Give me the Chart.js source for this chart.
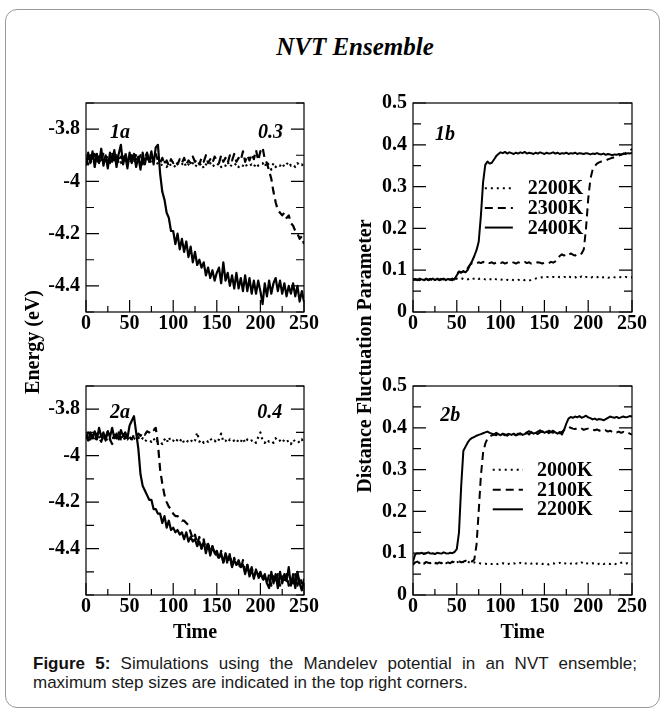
<!DOCTYPE html>
<html>
<head>
<meta charset="utf-8">
<script src="https://cdn.jsdelivr.net/npm/chart.js@4/dist/chart.umd.min.js"></script>
<style>
html,body{margin:0;padding:0;background:#fff;}
#page{position:relative;width:665px;height:718px;overflow:hidden;background:#fff;}
#frame{position:absolute;left:5px;top:9px;width:655px;height:699px;border:1px solid #9a9a9a;border-radius:12px;box-sizing:border-box;}
canvas{position:absolute;}
.serif{font-family:"Liberation Serif","Times New Roman",Times,serif;font-weight:bold;color:#000;}
#title{position:absolute;left:155px;width:400px;top:32px;height:30px;line-height:30px;text-align:center;font-style:italic;font-size:25px;white-space:nowrap;}
.ytitle{position:absolute;width:400px;height:24px;line-height:24px;text-align:center;font-size:20px;transform:rotate(-90deg);white-space:nowrap;}
#ytitle1{left:-168px;top:330px;}
#ytitle2{left:164px;top:344px;}
#caption{position:absolute;left:33px;top:654px;width:604px;font-family:"Liberation Sans",Arial,sans-serif;font-size:17px;line-height:19px;color:#1a1a1a;text-align:justify;}
#caption b{color:#111;}
</style>
</head>
<body>
<div id="page">
  <div id="frame"></div>
  <canvas id="c1a" width="302" height="257" style="left:24px;top:85px;width:302px;height:257px;"></canvas>
  <canvas id="c1b" width="303" height="257" style="left:351px;top:85px;width:303px;height:257px;"></canvas>
  <canvas id="c2a" width="302" height="277" style="left:24px;top:368px;width:302px;height:277px;"></canvas>
  <canvas id="c2b" width="303" height="277" style="left:351px;top:368px;width:303px;height:277px;"></canvas>
  <div id="title" class="serif">NVT Ensemble</div>
  <div id="ytitle1" class="ytitle serif">Energy (eV)</div>
  <div id="ytitle2" class="ytitle serif">Distance Fluctuation Parameter</div>
  <div id="caption"><b>Figure 5:</b> Simulations using the Mandelev potential in an NVT ensemble; maximum step sizes are indicated in the top right corners.</div>
</div>
<script>
// ---------------- DATA ----------------
const time = [
  0,2.5,5,7.5,10,12.5,15,17.5,20,22.5,
  25,27.5,30,32.5,35,37.5,40,42.5,45,47.5,
  50,52.5,55,57.5,60,62.5,65,67.5,70,72.5,
  75,77.5,80,82.5,85,87.5,90,92.5,95,97.5,
  100,102.5,105,107.5,110,112.5,115,117.5,120,122.5,
  125,127.5,130,132.5,135,137.5,140,142.5,145,147.5,
  150,152.5,155,157.5,160,162.5,165,167.5,170,172.5,
  175,177.5,180,182.5,185,187.5,190,192.5,195,197.5,
  200,202.5,205,207.5,210,212.5,215,217.5,220,222.5,
  225,227.5,230,232.5,235,237.5,240,242.5,245,247.5,
  250];

const timeTickLabels = ['0','50','100','150','200','250'];
const energyTickLabels = ['-3.8','-4','-4.2','-4.4'];
const dfpTickLabels = ['0','0.1','0.2','0.3','0.4','0.5'];

// Panel 1a: energy (eV), step size 0.3
const energy1_2200K = [
  -3.92,-3.905,-3.93,-3.91,-3.92,-3.90,-3.93,-3.91,-3.925,-3.905,
  -3.92,-3.91,-3.93,-3.905,-3.92,-3.91,-3.93,-3.90,-3.92,-3.91,
  -3.93,-3.915,-3.92,-3.905,-3.93,-3.915,-3.92,-3.905,-3.925,-3.91,
  -3.93,-3.915,-3.92,-3.935,-3.93,-3.94,-3.925,-3.945,-3.93,-3.94,
  -3.935,-3.945,-3.93,-3.94,-3.935,-3.925,-3.945,-3.935,-3.94,-3.93,
  -3.945,-3.935,-3.94,-3.93,-3.95,-3.935,-3.94,-3.93,-3.945,-3.935,
  -3.94,-3.93,-3.945,-3.935,-3.94,-3.925,-3.945,-3.935,-3.94,-3.93,
  -3.945,-3.935,-3.94,-3.93,-3.945,-3.94,-3.935,-3.945,-3.93,-3.94,
  -3.935,-3.93,-3.945,-3.925,-3.94,-3.955,-3.93,-3.945,-3.935,-3.94,
  -3.93,-3.945,-3.935,-3.925,-3.94,-3.935,-3.945,-3.93,-3.94,-3.935,
  -3.945];
const energy1_2300K = [
  -3.91,-3.935,-3.90,-3.92,-3.895,-3.93,-3.905,-3.925,-3.89,-3.92,
  -3.90,-3.93,-3.895,-3.92,-3.90,-3.93,-3.905,-3.915,-3.89,-3.925,
  -3.91,-3.90,-3.93,-3.895,-3.92,-3.90,-3.935,-3.91,-3.89,-3.925,
  -3.905,-3.915,-3.895,-3.92,-3.93,-3.91,-3.935,-3.92,-3.94,-3.915,
  -3.93,-3.92,-3.935,-3.915,-3.93,-3.91,-3.935,-3.92,-3.93,-3.905,
  -3.925,-3.915,-3.935,-3.91,-3.925,-3.90,-3.93,-3.915,-3.93,-3.905,
  -3.92,-3.93,-3.90,-3.925,-3.91,-3.93,-3.90,-3.92,-3.895,-3.925,
  -3.91,-3.92,-3.885,-3.925,-3.90,-3.92,-3.895,-3.915,-3.88,-3.92,
  -3.885,-3.87,-3.915,-3.93,-3.96,-3.99,-4.04,-4.08,-4.11,-4.12,
  -4.13,-4.12,-4.14,-4.13,-4.16,-4.17,-4.19,-4.20,-4.22,-4.21,
  -4.24];
const energy1_2400K = [
  -3.94,-3.89,-3.93,-3.885,-3.945,-3.895,-3.93,-3.875,-3.94,-3.90,
  -3.95,-3.89,-3.925,-3.88,-3.945,-3.895,-3.86,-3.935,-3.90,-3.95,
  -3.89,-3.93,-3.895,-3.945,-3.905,-3.955,-3.89,-3.935,-3.895,-3.925,
  -3.885,-3.935,-3.87,-3.86,-3.97,-4.04,-4.07,-4.12,-4.14,-4.19,
  -4.19,-4.24,-4.20,-4.26,-4.22,-4.27,-4.23,-4.29,-4.25,-4.31,
  -4.27,-4.32,-4.30,-4.33,-4.31,-4.36,-4.33,-4.37,-4.34,-4.38,
  -4.35,-4.33,-4.39,-4.31,-4.38,-4.35,-4.40,-4.36,-4.41,-4.35,
  -4.41,-4.37,-4.42,-4.36,-4.42,-4.37,-4.43,-4.38,-4.43,-4.38,
  -4.42,-4.47,-4.39,-4.44,-4.38,-4.43,-4.39,-4.37,-4.42,-4.38,
  -4.43,-4.39,-4.44,-4.40,-4.43,-4.39,-4.44,-4.40,-4.46,-4.42,
  -4.46];

// Panel 1b: distance fluctuation parameter
const dfp1_2200K = [
  0.078,0.076,0.079,0.077,0.080,0.076,0.078,0.081,0.077,0.079,
  0.076,0.079,0.077,0.080,0.078,0.076,0.079,0.077,0.080,0.078,
  0.080,0.082,0.081,0.079,0.080,0.078,0.081,0.079,0.080,0.082,
  0.079,0.081,0.080,0.078,0.080,0.079,0.077,0.080,0.078,0.076,
  0.078,0.077,0.075,0.077,0.076,0.078,0.076,0.075,0.077,0.076,
  0.078,0.076,0.077,0.075,0.077,0.078,0.080,0.081,0.082,0.083,
  0.082,0.084,0.083,0.082,0.084,0.083,0.085,0.083,0.082,0.084,
  0.083,0.086,0.083,0.082,0.084,0.080,0.083,0.085,0.082,0.084,
  0.083,0.081,0.084,0.082,0.083,0.085,0.082,0.083,0.084,0.082,
  0.083,0.085,0.083,0.082,0.084,0.083,0.082,0.084,0.083,0.082,
  0.083];
const dfp1_2300K = [
  0.079,0.077,0.078,0.076,0.079,0.078,0.080,0.077,0.079,0.076,
  0.078,0.080,0.077,0.079,0.078,0.076,0.079,0.077,0.080,0.078,
  0.090,0.097,0.095,0.098,0.096,0.105,0.113,0.117,0.118,0.116,
  0.119,0.117,0.120,0.116,0.118,0.117,0.119,0.116,0.118,0.120,
  0.117,0.119,0.116,0.118,0.117,0.120,0.118,0.116,0.119,0.117,
  0.118,0.120,0.117,0.119,0.116,0.118,0.117,0.119,0.118,0.116,
  0.118,0.119,0.117,0.120,0.118,0.121,0.126,0.134,0.138,0.135,
  0.139,0.136,0.140,0.137,0.135,0.138,0.136,0.140,0.150,0.200,
  0.270,0.318,0.340,0.349,0.355,0.358,0.360,0.361,0.362,0.365,
  0.367,0.369,0.370,0.372,0.374,0.376,0.378,0.380,0.383,0.386,
  0.390];
const dfp1_2400K = [
  0.077,0.079,0.076,0.080,0.078,0.077,0.079,0.076,0.078,0.080,
  0.077,0.079,0.076,0.078,0.080,0.077,0.079,0.078,0.076,0.079,
  0.088,0.096,0.094,0.097,0.095,0.101,0.112,0.122,0.134,0.148,
  0.168,0.230,0.310,0.352,0.360,0.355,0.357,0.365,0.373,0.378,
  0.382,0.380,0.383,0.379,0.382,0.380,0.378,0.381,0.379,0.382,
  0.380,0.383,0.379,0.381,0.380,0.378,0.381,0.379,0.382,0.380,
  0.378,0.381,0.379,0.380,0.382,0.379,0.381,0.378,0.380,0.379,
  0.381,0.378,0.380,0.379,0.381,0.378,0.380,0.379,0.378,0.380,
  0.379,0.377,0.379,0.378,0.380,0.378,0.377,0.379,0.376,0.378,
  0.377,0.375,0.377,0.376,0.378,0.377,0.379,0.378,0.380,0.379,
  0.381];

// Panel 2a: energy (eV), step size 0.4
const energy2_2000K = [
  -3.92,-3.94,-3.91,-3.93,-3.915,-3.935,-3.92,-3.93,-3.91,-3.94,
  -3.92,-3.93,-3.915,-3.935,-3.92,-3.93,-3.91,-3.935,-3.92,-3.93,
  -3.915,-3.935,-3.925,-3.93,-3.92,-3.935,-3.925,-3.94,-3.93,-3.935,
  -3.94,-3.925,-3.945,-3.935,-3.94,-3.95,-3.93,-3.945,-3.92,-3.94,
  -3.935,-3.945,-3.93,-3.94,-3.925,-3.945,-3.935,-3.94,-3.93,-3.945,
  -3.935,-3.90,-3.94,-3.93,-3.945,-3.935,-3.94,-3.925,-3.94,-3.935,
  -3.945,-3.93,-3.905,-3.94,-3.935,-3.945,-3.93,-3.94,-3.935,-3.945,
  -3.93,-3.94,-3.925,-3.945,-3.93,-3.94,-3.935,-3.93,-3.945,-3.92,
  -3.90,-3.935,-3.945,-3.93,-3.94,-3.935,-3.945,-3.925,-3.94,-3.935,
  -3.945,-3.93,-3.94,-3.935,-3.95,-3.93,-3.94,-3.935,-3.945,-3.93,
  -3.945];
const energy2_2100K = [
  -3.925,-3.90,-3.93,-3.91,-3.935,-3.905,-3.925,-3.94,-3.91,-3.92,
  -3.895,-3.93,-3.95,-3.91,-3.925,-3.90,-3.93,-3.91,-3.925,-3.905,
  -3.92,-3.93,-3.91,-3.92,-3.905,-3.915,-3.90,-3.91,-3.895,-3.90,
  -3.885,-3.89,-3.88,-3.95,-4.06,-4.12,-4.17,-4.20,-4.22,-4.23,
  -4.25,-4.26,-4.26,-4.27,-4.28,-4.28,-4.29,-4.30,-4.33,-4.36,
  -4.34,-4.38,-4.35,-4.40,-4.36,-4.41,-4.37,-4.42,-4.39,-4.43,
  -4.42,-4.45,-4.41,-4.46,-4.43,-4.47,-4.42,-4.48,-4.44,-4.47,
  -4.46,-4.49,-4.45,-4.50,-4.47,-4.51,-4.48,-4.52,-4.50,-4.53,
  -4.51,-4.54,-4.52,-4.55,-4.51,-4.56,-4.52,-4.55,-4.51,-4.56,
  -4.52,-4.55,-4.51,-4.56,-4.53,-4.55,-4.51,-4.56,-4.52,-4.55,
  -4.55];
const energy2_2200K = [
  -3.91,-3.935,-3.90,-3.925,-3.895,-3.93,-3.88,-3.92,-3.90,-3.935,
  -3.895,-3.92,-3.88,-3.925,-3.905,-3.93,-3.89,-3.915,-3.90,-3.925,
  -3.87,-3.85,-3.83,-3.90,-3.97,-4.08,-4.13,-4.15,-4.17,-4.19,
  -4.19,-4.23,-4.23,-4.25,-4.25,-4.29,-4.26,-4.31,-4.28,-4.32,
  -4.31,-4.33,-4.32,-4.34,-4.33,-4.36,-4.33,-4.37,-4.35,-4.37,
  -4.36,-4.39,-4.37,-4.40,-4.37,-4.42,-4.38,-4.43,-4.39,-4.42,
  -4.41,-4.44,-4.42,-4.46,-4.42,-4.45,-4.43,-4.48,-4.45,-4.47,
  -4.45,-4.48,-4.47,-4.51,-4.47,-4.52,-4.49,-4.53,-4.49,-4.52,
  -4.50,-4.53,-4.51,-4.55,-4.57,-4.50,-4.55,-4.51,-4.57,-4.50,
  -4.55,-4.51,-4.54,-4.48,-4.56,-4.51,-4.57,-4.50,-4.55,-4.58,
  -4.53];

// Panel 2b: distance fluctuation parameter
const dfp2_2000K = [
  0.076,0.078,0.075,0.077,0.079,0.076,0.078,0.075,0.077,0.079,
  0.076,0.078,0.075,0.077,0.079,0.076,0.078,0.077,0.079,0.076,
  0.078,0.080,0.077,0.079,0.078,0.080,0.077,0.079,0.078,0.076,
  0.077,0.075,0.074,0.075,0.074,0.076,0.074,0.075,0.073,0.075,
  0.074,0.076,0.075,0.073,0.075,0.074,0.076,0.074,0.075,0.077,
  0.074,0.076,0.075,0.073,0.075,0.077,0.074,0.076,0.075,0.074,
  0.076,0.075,0.073,0.075,0.076,0.074,0.075,0.077,0.074,0.076,
  0.075,0.073,0.075,0.077,0.074,0.076,0.075,0.078,0.074,0.076,
  0.075,0.074,0.076,0.075,0.073,0.075,0.077,0.074,0.076,0.075,
  0.074,0.076,0.075,0.073,0.075,0.077,0.078,0.075,0.076,0.074,
  0.075];
const dfp2_2100K = [
  0.072,0.078,0.080,0.076,0.078,0.075,0.079,0.077,0.076,0.079,
  0.077,0.075,0.078,0.076,0.079,0.077,0.078,0.076,0.080,0.078,
  0.079,0.081,0.078,0.080,0.082,0.079,0.081,0.080,0.085,0.120,
  0.200,0.285,0.340,0.362,0.374,0.379,0.382,0.384,0.382,0.386,
  0.383,0.385,0.382,0.384,0.386,0.383,0.385,0.382,0.386,0.384,
  0.387,0.385,0.389,0.392,0.388,0.390,0.387,0.391,0.394,0.390,
  0.392,0.389,0.393,0.390,0.388,0.392,0.389,0.387,0.390,0.395,
  0.399,0.402,0.400,0.398,0.397,0.399,0.396,0.398,0.395,0.397,
  0.398,0.395,0.396,0.394,0.396,0.393,0.395,0.392,0.394,0.391,
  0.393,0.390,0.392,0.389,0.391,0.388,0.390,0.387,0.389,0.386,
  0.384];
const dfp2_2200K = [
  0.080,0.097,0.100,0.099,0.101,0.098,0.100,0.102,0.099,0.100,
  0.098,0.101,0.100,0.099,0.102,0.100,0.099,0.101,0.100,0.103,
  0.110,0.150,0.260,0.345,0.355,0.365,0.372,0.376,0.378,0.381,
  0.383,0.385,0.387,0.389,0.391,0.388,0.386,0.384,0.388,0.385,
  0.382,0.386,0.384,0.381,0.385,0.383,0.386,0.382,0.384,0.387,
  0.383,0.385,0.388,0.384,0.390,0.386,0.388,0.385,0.389,0.392,
  0.388,0.391,0.387,0.390,0.393,0.389,0.386,0.390,0.384,0.395,
  0.410,0.422,0.426,0.424,0.427,0.425,0.428,0.424,0.426,0.429,
  0.425,0.423,0.420,0.422,0.419,0.421,0.420,0.418,0.421,0.424,
  0.427,0.425,0.424,0.426,0.423,0.425,0.427,0.425,0.426,0.428,
  0.427];

// ---------------- RENDERING ----------------
const SERIF = '"Liberation Serif", "Times New Roman", Times, serif';
const DOT = [2, 4];
const DASH = [8, 5];

const toPoints = vals => time.map((t, i) => ({x: t, y: vals[i]}));
const pickLabel = list => v => {
  const m = list.find(s => Math.abs(parseFloat(s) - v) < 1e-6);
  return m === undefined ? '' : m;
};

// Per-panel text placed inside plot areas (in data units)
const panelText = {
  c1a: {notes: [{text: '1a', x: 27.5, y: -3.813, align: 'left'}, {text: '0.3', x: 226, y: -3.813, align: 'right'}]},
  c1b: {notes: [{text: '1b', x: 25, y: 0.4245, align: 'left'}],
        legend: {x0: 82, x1: 114, xText: 131, rows: [0.296, 0.249, 0.202]}},
  c2a: {notes: [{text: '2a', x: 27.5, y: -3.815, align: 'left'}, {text: '0.4', x: 225, y: -3.815, align: 'right'}]},
  c2b: {notes: [{text: '2b', x: 31, y: 0.429, align: 'left'}],
        legend: {x0: 91, x1: 125.5, xText: 141.5, rows: [0.2995, 0.252, 0.205]}}
};

const framePlugin = {
  id: 'frameTicks',
  afterDatasetsDraw(chart) {
    const {ctx, chartArea: a, scales: {x, y}} = chart;
    ctx.save();
    ctx.strokeStyle = '#000';
    ctx.lineWidth = 1.2;
    ctx.setLineDash([]);
    ctx.strokeRect(a.left, a.top, a.right - a.left, a.bottom - a.top);
    ctx.beginPath();
    y.ticks.forEach(t => {
      const p = y.getPixelForValue(t.value);
      const L = t.label ? 13 : 8;
      ctx.moveTo(a.left, p); ctx.lineTo(a.left + L, p);
      ctx.moveTo(a.right, p); ctx.lineTo(a.right - L, p);
    });
    x.ticks.forEach(t => {
      const p = x.getPixelForValue(t.value);
      const L = t.label ? 12 : 6;
      ctx.moveTo(p, a.bottom); ctx.lineTo(p, a.bottom - L);
    });
    ctx.stroke();
    ctx.restore();
  }
};

const textPlugin = {
  id: 'panelText',
  afterDraw(chart) {
    const cfg = panelText[chart.canvas.id];
    if (!cfg) return;
    const {ctx, scales: {x, y}} = chart;
    ctx.save();
    ctx.fillStyle = '#000';
    ctx.textBaseline = 'middle';
    (cfg.notes || []).forEach(n => {
      ctx.font = 'italic bold 20px ' + SERIF;
      ctx.textAlign = n.align;
      ctx.fillText(n.text, x.getPixelForValue(n.x), y.getPixelForValue(n.y));
    });
    const lg = cfg.legend;
    if (lg) {
      chart.data.datasets.forEach((ds, i) => {
        const py = y.getPixelForValue(lg.rows[i]);
        ctx.strokeStyle = '#000';
        ctx.lineWidth = ds.borderWidth;
        ctx.setLineDash(ds.borderDash || []);
        ctx.beginPath();
        ctx.moveTo(x.getPixelForValue(lg.x0), py);
        ctx.lineTo(x.getPixelForValue(lg.x1), py);
        ctx.stroke();
        ctx.setLineDash([]);
        ctx.font = 'bold 20px ' + SERIF;
        ctx.textAlign = 'left';
        ctx.fillText(ds.label, x.getPixelForValue(lg.xText), py + 1);
      });
    }
    ctx.restore();
  }
};

function makePanel(id, series, yMin, yMax, yStep, yLabels, showTime) {
  return new Chart(document.getElementById(id), {
    type: 'line',
    data: {
      datasets: series.map(s => ({
        label: s.label,
        data: toPoints(s.values),
        borderColor: '#000',
        borderWidth: s.width,
        borderDash: s.dash,
        borderCapStyle: 'butt',
        borderJoinStyle: 'round',
        pointRadius: 0,
        fill: false,
        tension: 0
      }))
    },
    options: {
      responsive: false,
      animation: false,
      devicePixelRatio: 1,
      layout: {padding: {top: 15, right: 22, left: 0, bottom: 0}},
      plugins: {legend: {display: false}, tooltip: {enabled: false}},
      scales: {
        x: {
          type: 'linear', min: 0, max: 250,
          border: {display: false},
          grid: {display: false, drawTicks: false},
          ticks: {stepSize: 25, autoSkip: false, maxRotation: 0, padding: 0, color: '#000',
                  font: {family: SERIF, weight: 'bold', size: 20}, callback: pickLabel(timeTickLabels)},
          title: {display: showTime, text: 'Time', color: '#000',
                  font: {family: SERIF, weight: 'bold', size: 20}, padding: {top: 0, bottom: 0}},
          afterFit: s => { s.height = showTime ? 50 : 30; }
        },
        y: {
          type: 'linear', min: yMin, max: yMax,
          border: {display: false},
          grid: {display: false, drawTicks: false},
          ticks: {stepSize: yStep, autoSkip: false, padding: 6, color: '#000',
                  font: {family: SERIF, weight: 'bold', size: 20}, callback: pickLabel(yLabels)},
          afterFit: s => { s.width = 62; }
        }
      }
    },
    plugins: [framePlugin, textPlugin]
  });
}

makePanel('c1a', [
  {label: '2200K', values: energy1_2200K, dash: DOT, width: 2.2},
  {label: '2300K', values: energy1_2300K, dash: DASH, width: 2.2},
  {label: '2400K', values: energy1_2400K, dash: [], width: 2.2}
], -4.5, -3.7, 0.1, energyTickLabels, false);

makePanel('c1b', [
  {label: '2200K', values: dfp1_2200K, dash: DOT, width: 2},
  {label: '2300K', values: dfp1_2300K, dash: DASH, width: 2},
  {label: '2400K', values: dfp1_2400K, dash: [], width: 2}
], 0, 0.5, 0.05, dfpTickLabels, false);

makePanel('c2a', [
  {label: '2000K', values: energy2_2000K, dash: DOT, width: 2.2},
  {label: '2100K', values: energy2_2100K, dash: DASH, width: 2.2},
  {label: '2200K', values: energy2_2200K, dash: [], width: 2.2}
], -4.6, -3.7, 0.1, energyTickLabels, true);

makePanel('c2b', [
  {label: '2000K', values: dfp2_2000K, dash: DOT, width: 2},
  {label: '2100K', values: dfp2_2100K, dash: DASH, width: 2},
  {label: '2200K', values: dfp2_2200K, dash: [], width: 2}
], 0, 0.5, 0.05, dfpTickLabels, true);
</script>
</body>
</html>
